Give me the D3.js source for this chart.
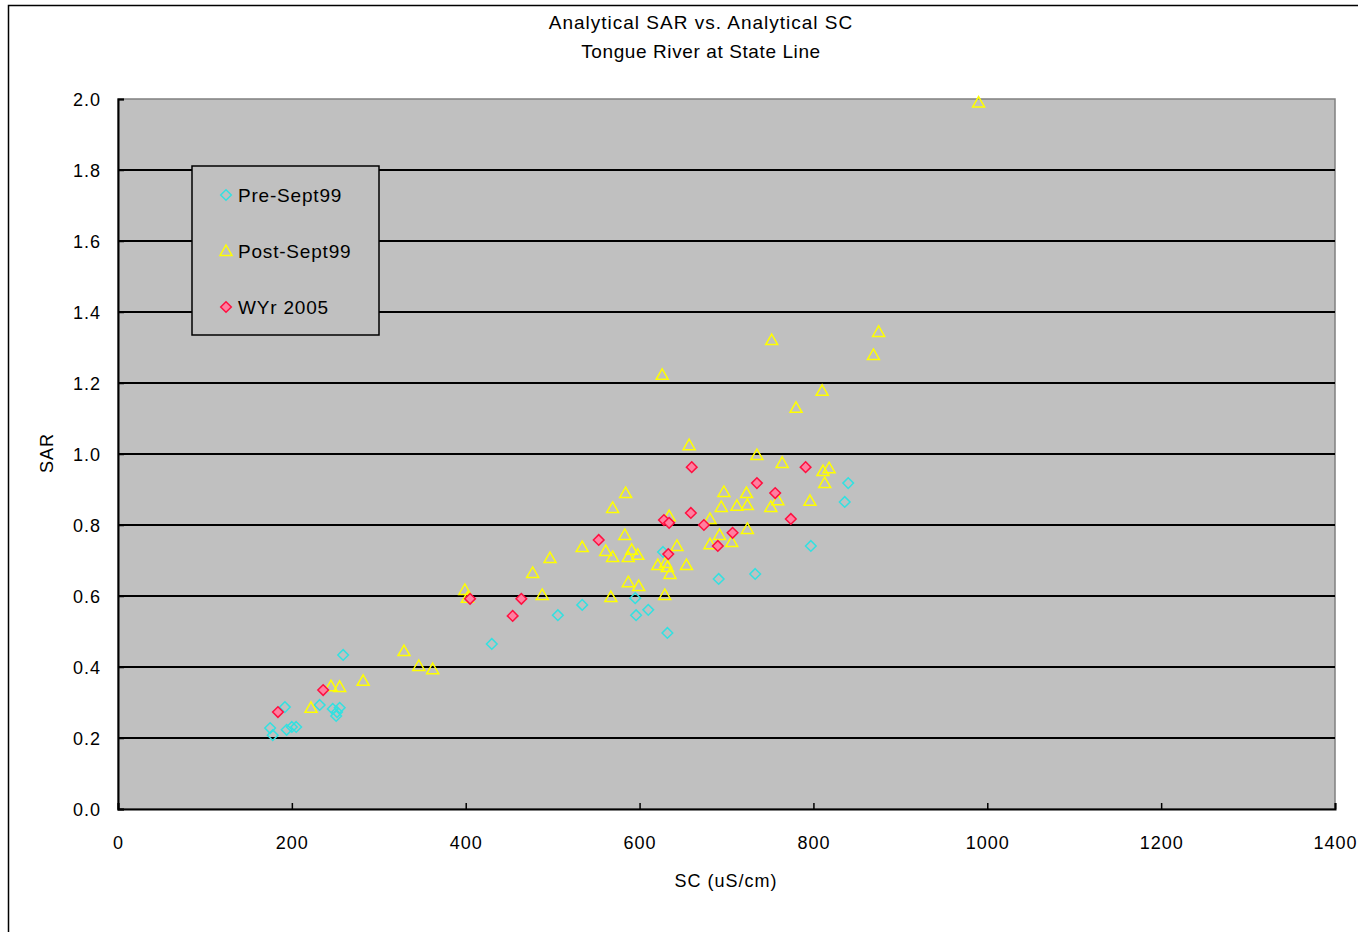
<!DOCTYPE html>
<html>
<head>
<meta charset="utf-8">
<script src="https://cdn.jsdelivr.net/npm/d3@7"></script>
<style>
  body { margin: 0; background: #fff; }
  text { font-family: "Liberation Sans", Arial, sans-serif; fill: #000; }
</style>
</head>
<body>
<div class="chart"></div>
<script>
// series: [SC, SAR]
var preSept99 = [
  [175, 0.228], [178, 0.208], [192, 0.287], [194, 0.223], [200, 0.231], [205, 0.231],
  [232, 0.293], [247, 0.282], [252, 0.273], [255, 0.285], [251, 0.262], [259, 0.434],
  [430, 0.465], [506, 0.546], [534, 0.575], [595, 0.594], [596, 0.546], [610, 0.561],
  [632, 0.496], [627, 0.724], [691, 0.648], [733, 0.662], [797, 0.741], [836, 0.865],
  [840, 0.918]
];
var postSept99 = [
  [222, 0.285], [245, 0.346], [255, 0.344], [282, 0.361], [329, 0.445], [346, 0.403],
  [362, 0.394], [399, 0.617], [402, 0.595], [477, 0.665], [488, 0.603], [497, 0.707],
  [534, 0.738], [561, 0.727], [567, 0.597], [569, 0.848], [569, 0.710], [583, 0.772],
  [584, 0.890], [587, 0.710], [587, 0.639], [591, 0.730], [598, 0.716], [599, 0.628],
  [621, 0.687], [626, 1.223], [629, 0.603], [630, 0.693], [632, 0.682], [634, 0.825],
  [635, 0.662], [643, 0.741], [654, 0.687], [657, 1.025], [681, 0.817], [681, 0.746],
  [692, 0.772], [694, 0.851], [697, 0.893], [706, 0.752], [712, 0.854], [723, 0.890],
  [724, 0.856], [724, 0.789], [735, 0.997], [751, 0.851], [752, 1.321], [759, 0.870],
  [764, 0.975], [780, 1.130], [796, 0.868], [810, 1.178], [811, 0.952], [813, 0.918],
  [818, 0.960], [869, 1.279], [875, 1.344], [990, 1.990]
];
var wyr2005 = [
  [184, 0.273], [236, 0.335], [405, 0.592], [454, 0.544], [464, 0.592], [553, 0.758],
  [628, 0.814], [634, 0.806], [633, 0.718], [659, 0.834], [660, 0.963], [674, 0.800],
  [690, 0.741], [707, 0.778], [735, 0.918], [756, 0.890], [774, 0.817], [791, 0.963]
];
var xTicks = [0, 200, 400, 600, 800, 1000, 1200, 1400];
var yTicks = [0, 0.2, 0.4, 0.6, 0.8, 1.0, 1.2, 1.4, 1.6, 1.8, 2.0];
var legendNames = ["Pre-Sept99", "Post-Sept99", "WYr 2005"];

var width = 1358, height = 932;
var margin = { top: 99, right: 23, bottom: 123, left: 118 };
var plotW = width - margin.left - margin.right;
var plotH = height - margin.top - margin.bottom;

var svg = d3.select(".chart").append("svg")
  .attr("width", width)
  .attr("height", height);

// outer chart frame
svg.append("rect")
  .attr("x", 8.5).attr("y", 5.5)
  .attr("width", width).attr("height", height)
  .attr("fill", "#fff").attr("stroke", "#000").attr("stroke-width", 1.5);

svg.append("text").attr("x", 701).attr("y", 29)
  .attr("text-anchor", "middle").attr("font-size", 19).attr("letter-spacing", 1)
  .text("Analytical SAR vs. Analytical SC");
svg.append("text").attr("x", 701).attr("y", 58)
  .attr("text-anchor", "middle").attr("font-size", 19).attr("letter-spacing", 0.6)
  .text("Tongue River at State Line");

var x = d3.scaleLinear().domain([0, 1400]).range([0, plotW]);
var y = d3.scaleLinear().domain([0, 2]).range([plotH, 0]);

var chart = svg.append("g")
  .attr("transform", "translate(" + margin.left + "," + margin.top + ")");

chart.append("rect")
  .attr("width", plotW).attr("height", plotH)
  .attr("fill", "#c0c0c0").attr("stroke", "#808080").attr("stroke-width", 1.5);

// gridlines
chart.selectAll("line.grid")
  .data(yTicks.slice(1, -1))
  .enter().append("line")
    .attr("class", "grid")
    .attr("x1", 0).attr("x2", plotW)
    .attr("y1", function(d) { return y(d); })
    .attr("y2", function(d) { return y(d); })
    .attr("stroke", "#000").attr("stroke-width", 2);

var xAxis = chart.append("g")
  .attr("transform", "translate(0," + plotH + ")")
  .call(d3.axisBottom(x).tickValues(xTicks).tickSize(-6).tickPadding(27).tickFormat(d3.format("d")));
var yAxis = chart.append("g")
  .call(d3.axisLeft(y).tickValues(yTicks).tickSize(-6).tickPadding(17).tickFormat(d3.format(".1f")));

[xAxis, yAxis].forEach(function(a) {
  a.select(".domain").attr("stroke", "#000").attr("stroke-width", 2);
  a.selectAll(".tick line").attr("stroke", "#000").attr("stroke-width", 1.5);
  a.selectAll(".tick text")
    .attr("font-family", "'Liberation Sans', Arial, sans-serif")
    .attr("font-size", 18).attr("letter-spacing", 1).attr("fill", "#000");
});
yAxis.selectAll(".tick text").attr("dy", "0.35em");

svg.append("text").attr("x", 726).attr("y", 887)
  .attr("text-anchor", "middle").attr("font-size", 18).attr("letter-spacing", 1)
  .text("SC (uS/cm)");
svg.append("text")
  .attr("transform", "translate(53,453) rotate(-90)")
  .attr("text-anchor", "middle").attr("font-size", 18).attr("letter-spacing", 1)
  .text("SAR");

var diamond = d3.symbol().type(d3.symbolDiamond2).size(72);
var triangle = "M0,-6L6,4.5L-6,4.5Z";

function drawDiamonds(data, fill, stroke) {
  chart.append("g").selectAll("path")
    .data(data)
    .enter().append("path")
      .attr("transform", function(d) { return "translate(" + x(d[0]) + "," + y(d[1]) + ")"; })
      .attr("d", diamond)
      .attr("fill", fill).attr("stroke", stroke).attr("stroke-width", 1.5);
}

drawDiamonds(preSept99, "none", "#33e0e0");
chart.append("g").selectAll("path")
  .data(postSept99)
  .enter().append("path")
    .attr("transform", function(d) { return "translate(" + x(d[0]) + "," + y(d[1]) + ")"; })
    .attr("d", triangle)
    .attr("fill", "none").attr("stroke", "#ffff00").attr("stroke-width", 1.5);
drawDiamonds(wyr2005, "#ff7fa0", "#ff1040");

// legend
var legend = svg.append("g").attr("transform", "translate(192,166)");
legend.append("rect")
  .attr("width", 187).attr("height", 169)
  .attr("fill", "#c0c0c0").attr("stroke", "#000").attr("stroke-width", 1.5);

var rows = legend.selectAll("g.row")
  .data(legendNames)
  .enter().append("g")
    .attr("class", "row")
    .attr("transform", function(d, i) { return "translate(34," + (29 + i * 56) + ")"; });

rows.append("path")
  .attr("d", function(d, i) { return i === 1 ? triangle : diamond(); })
  .attr("fill", function(d, i) { return i === 2 ? "#ff7fa0" : "none"; })
  .attr("stroke", function(d, i) { return ["#33e0e0", "#ffff00", "#ff1040"][i]; })
  .attr("stroke-width", 1.5);

rows.append("text")
  .attr("x", 12).attr("dy", "0.35em")
  .attr("font-size", 19).attr("letter-spacing", 0.8)
  .text(function(d) { return d; });
</script>
</body>
</html>
